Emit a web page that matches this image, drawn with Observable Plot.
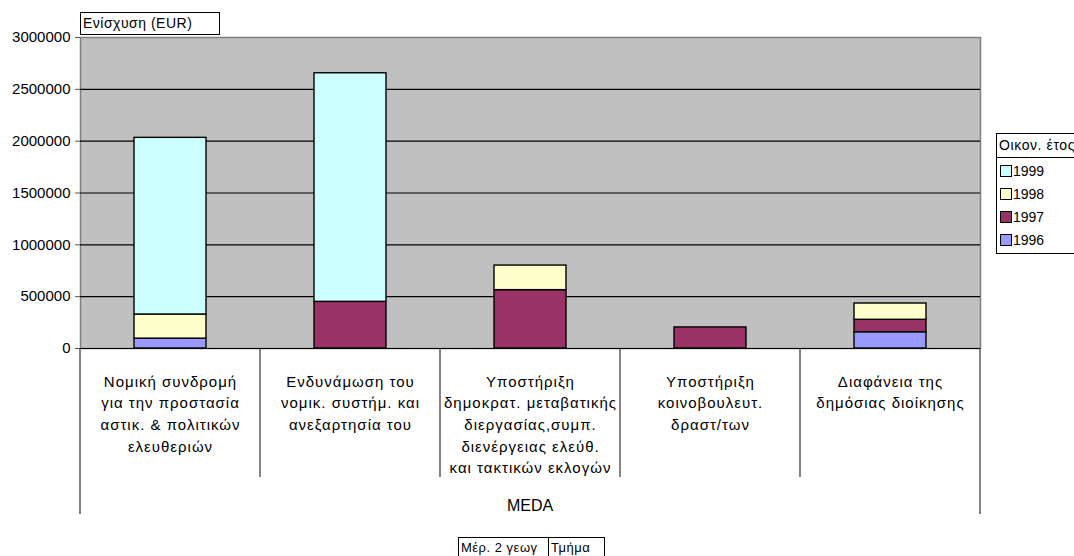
<!DOCTYPE html>
<html><head><meta charset="utf-8">
<script src="https://cdn.jsdelivr.net/npm/d3@7"></script>
<script src="https://cdn.jsdelivr.net/npm/@observablehq/plot@0.6"></script>
<style>
body{margin:0;background:#fff;font-family:"Liberation Sans",Arial,sans-serif;overflow:hidden}
#wrap{position:relative;width:1074px;height:556px;overflow:hidden}
.box{position:absolute;border:1px solid #000;background:#fff;font-size:14px;white-space:nowrap;overflow:hidden;box-sizing:border-box;line-height:20px;padding-left:2px;letter-spacing:0.5px}
#legend{position:absolute;left:996px;top:133px;width:100px;height:121px;border:1px solid #000;background:#fff;box-sizing:border-box;font-size:14px}
#legend .hd{height:23px;border-bottom:1px solid #000;line-height:22px;padding-left:2px;white-space:nowrap;letter-spacing:0.6px}
#legend .it{position:absolute;left:3px;height:16px;line-height:16px;white-space:nowrap}
#legend .sw{display:inline-block;width:10px;height:10px;border:1px solid #000;margin-right:1px;vertical-align:-1px}
svg g[aria-label="x-axis tick label"] text{letter-spacing:1px}
</style></head><body><div id="wrap"></div>
<script>
const categories = [
  "Νομική συνδρομή\nγια την προστασία\nαστικ. & πολιτικών\nελευθεριών",
  "Ενδυνάμωση του\nνομικ. συστήμ. και\nανεξαρτησία του",
  "Υποστήριξη\nδημοκρατ. μεταβατικής\nδιεργασίας,συμπ.\nδιενέργειας ελεύθ.\nκαι τακτικών εκλογών",
  "Υποστήριξη\nκοινοβουλευτ.\nδραστ/των",
  "Διαφάνεια της\nδημόσιας διοίκησης"
];
const years = ["1996", "1997", "1998", "1999"];
const v1996 = [95000, 0, 0, 0, 157000];
const v1997 = [0, 450000, 563000, 203000, 120000];
const v1998 = [233000, 0, 237000, 0, 157000];
const v1999 = [1704000, 2205000, 0, 0, 0];
const yTicks = [0, 500000, 1000000, 1500000, 2000000, 2500000, 3000000];
const colors = ["#9999ff", "#993366", "#ffffcc", "#ccffff"];
const yTitle = "Ενίσχυση (EUR)";
const legendTitle = "Οικον. έτος";
const groupLabel = "MEDA";
const footer = ["Μέρ. 2 γεωγ", "Τμήμα"];

const series = [v1996, v1997, v1998, v1999];
const rows = [];
years.forEach((yr, i) => series[i].forEach((v, j) => { if (v > 0) rows.push({cat: categories[j], year: yr, value: v}); }));

const chart = Plot.plot({
  width: 1074, height: 556,
  marginLeft: 80, marginRight: 94, marginTop: 37, marginBottom: 208,
  style: {fontFamily: "'Liberation Sans', Arial, sans-serif", fontSize: "13px", background: "transparent", color: "black"},
  x: {domain: categories, paddingInner: 0.6, paddingOuter: 0.3},
  y: {domain: [0, 3000000]},
  color: {domain: years, range: colors},
  marks: [
    Plot.frame({fill: "#c0c0c0", stroke: "#808080", strokeWidth: 1.5}),
    Plot.ruleY(yTicks.filter(d => d < 3000000), {stroke: "black", strokeWidth: 1.2}),
    Plot.barY(rows, {x: "cat", y: "value", fill: "year", stroke: "black", strokeWidth: 1.4}),
    Plot.axisY({ticks: yTicks, tickFormat: d3.format("d"), tickSize: 5, tickPadding: 5, fontSize: 15, label: null, stroke: "#555"}),
    Plot.axisX({tickSize: 0, tickPadding: 23, fontSize: 15, lineHeight: 1.44, label: null})
  ]
});
const wrap = document.getElementById("wrap");
wrap.appendChild(chart);

// table lines below the plot, positioned from the scales
const xs = chart.scale("x"), ys = chart.scale("y");
const step = xs.step;
const y0 = ys.apply(0);
const svg = d3.select(chart);
const g = svg.append("g").attr("stroke", "#333").attr("stroke-width", 1.2);
categories.forEach((c, i) => {
  if (i === 0) return;
  const xb = xs.apply(c) + xs.bandwidth / 2 - step / 2;
  g.append("line").attr("x1", xb).attr("x2", xb).attr("y1", y0).attr("y2", y0 + 129);
});
const xl = xs.apply(categories[0]) + xs.bandwidth / 2 - step / 2;
const xr = xs.apply(categories[categories.length - 1]) + xs.bandwidth / 2 + step / 2;
[xl, xr].forEach(x => g.append("line").attr("x1", x).attr("x2", x).attr("y1", y0).attr("y2", y0 + 166));
svg.append("text").attr("x", (xl + xr) / 2).attr("y", y0 + 163).attr("text-anchor", "middle")
  .attr("font-size", 16).attr("fill", "black").text(groupLabel);

// y title box
const t = document.createElement("div");
t.className = "box"; t.textContent = yTitle;
Object.assign(t.style, {left: "80px", top: "12px", width: "140px", height: "23px"});
wrap.appendChild(t);

// legend
const lg = document.createElement("div");
lg.id = "legend";
lg.innerHTML = `<div class="hd">${legendTitle}</div>`;
[...years].reverse().forEach((yr, k) => {
  const it = document.createElement("div");
  it.className = "it";
  it.style.top = (29 + k * 23) + "px";
  it.innerHTML = `<span class="sw" style="background:${colors[years.indexOf(yr)]}"></span>${yr}`;
  lg.appendChild(it);
});
wrap.appendChild(lg);

// footer boxes
const f1 = document.createElement("div");
f1.className = "box"; f1.textContent = footer[0];
Object.assign(f1.style, {left: "458px", top: "537px", width: "91px", height: "24px", fontSize: "13px"});
wrap.appendChild(f1);
const f2 = document.createElement("div");
f2.className = "box"; f2.textContent = footer[1];
Object.assign(f2.style, {left: "548px", top: "537px", width: "57px", height: "24px", fontSize: "13px"});
wrap.appendChild(f2);
</script>
</body></html>
